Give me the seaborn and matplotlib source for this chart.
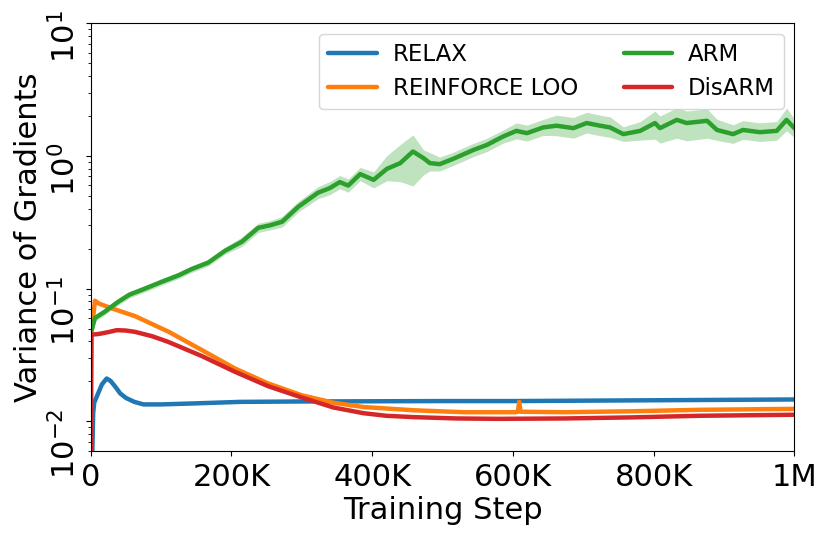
import matplotlib
matplotlib.use("Agg")
import matplotlib.pyplot as plt
import seaborn as sns
import numpy as np

# ---------------- data (training step in thousands) ----------------
relax_steps = [0, 2.3, 3.5, 5, 10, 16, 22.7, 28, 35, 42, 50, 62, 75, 100, 150, 212,
               300, 400, 500, 600, 700, 800, 900, 1000]
relax_vals = [0.004, 0.006, 0.0115, 0.0138, 0.0160, 0.0190, 0.0210, 0.0202, 0.0182,
              0.0162, 0.0150, 0.0140, 0.0134, 0.0134, 0.01365, 0.0140, 0.0141, 0.01415,
              0.0142, 0.0142, 0.0143, 0.0144, 0.0145, 0.0146]

loo_steps = [1, 6, 12, 29.8, 63, 111, 158, 205, 252, 300, 345, 388, 460, 531, 603,
             607, 609, 611, 674, 770, 865, 1000]
loo_vals = [0.046, 0.081, 0.077, 0.071, 0.062, 0.0472, 0.0344, 0.025, 0.0193, 0.0157,
            0.0138, 0.0128, 0.0121, 0.0117, 0.0117, 0.0118, 0.0140, 0.0118, 0.0117,
            0.0119, 0.0122, 0.0124]

arm_steps = [1.5, 6, 20, 39, 55, 72, 101, 125, 143, 167, 191, 215, 238, 255, 272, 295,
             323, 340, 354, 366, 383, 402, 421, 440, 458, 473, 482, 496, 515, 544, 563,
             586, 605, 620, 643, 662, 686, 705, 724, 738, 757, 781, 802, 809, 833, 847,
             876, 890, 913, 927, 951, 975, 989, 1000]
arm_vals = [0.049, 0.060, 0.067, 0.0795, 0.090, 0.0975, 0.1125, 0.126, 0.140, 0.157,
            0.193, 0.226, 0.287, 0.300, 0.319, 0.414, 0.528, 0.573, 0.635, 0.598, 0.730,
            0.660, 0.800, 0.883, 1.08, 0.962, 0.883, 0.867, 0.95, 1.11, 1.21, 1.40, 1.545,
            1.485, 1.64, 1.69, 1.62, 1.77, 1.69, 1.64, 1.46, 1.545, 1.77, 1.62, 1.87, 1.77,
            1.84, 1.57, 1.46, 1.57, 1.51, 1.545, 1.87, 1.62]
arm_hi = [0.0513, 0.0635, 0.071, 0.0842, 0.0953, 0.1032, 0.119, 0.1334, 0.148, 0.166,
          0.204, 0.245, 0.311, 0.325, 0.350, 0.454, 0.586, 0.643, 0.712, 0.671, 0.819,
          0.758, 1.007, 1.22, 1.44, 1.11, 1.06, 0.98, 1.066, 1.245, 1.358, 1.57, 1.774,
          1.705, 1.883, 2.03, 1.95, 2.13, 2.03, 1.97, 1.657, 1.815, 2.18, 2.0, 2.30, 2.18,
          2.26, 1.89, 1.715, 1.845, 1.774, 1.815, 2.30, 1.90]
arm_lo = [0.0468, 0.0567, 0.0633, 0.0751, 0.0850, 0.0921, 0.1062, 0.119, 0.132, 0.148,
          0.182, 0.208, 0.265, 0.277, 0.291, 0.378, 0.476, 0.511, 0.566, 0.533, 0.651,
          0.575, 0.650, 0.640, 0.594, 0.72, 0.77, 0.77, 0.847, 0.99, 1.078, 1.248, 1.346,
          1.293, 1.428, 1.42, 1.36, 1.49, 1.42, 1.38, 1.286, 1.315, 1.34, 1.25, 1.36, 1.30,
          1.36, 1.31, 1.243, 1.336, 1.285, 1.315, 1.55, 1.38]

disarm_steps = [0, 1.2, 10, 18, 25, 37, 50, 63, 87, 110, 158, 205, 252, 300, 345, 388,
                420, 460, 520, 579, 674, 770, 865, 1000]
disarm_vals = [0.004, 0.045, 0.0454, 0.0462, 0.047, 0.0486, 0.0483, 0.0472, 0.0438,
               0.0397, 0.031, 0.0236, 0.0184, 0.0151, 0.0127, 0.0115, 0.0110, 0.01074,
               0.0105, 0.01043, 0.0105, 0.0107, 0.0110, 0.0112]

x_ticks = [0, 200, 400, 600, 800, 1000]
x_tick_labels = ["0", "200K", "400K", "600K", "800K", "1M"]

# ---------------- style ----------------
sns.set_style("ticks", rc={
    "axes.edgecolor": "black",
    "xtick.color": "black",
    "ytick.color": "black",
    "text.color": "black",
    "axes.labelcolor": "black",
})
plt.rcParams["font.family"] = ["DejaVu Sans"]
plt.rcParams["mathtext.fontset"] = "dejavusans"

c_blue, c_orange, c_green, c_red = "#1f77b4", "#ff7f0e", "#2ca02c", "#d62728"

fig, ax = plt.subplots(figsize=(8.3, 5.41), dpi=100)
fig.subplots_adjust(left=0.1093, right=0.957, bottom=0.1669, top=0.957)

lw = 3.2
sns.lineplot(x=relax_steps, y=relax_vals, color=c_blue, lw=lw, label="RELAX", ax=ax)
sns.lineplot(x=loo_steps, y=loo_vals, color=c_orange, lw=lw, label="REINFORCE LOO", ax=ax)
ax.fill_between(arm_steps, arm_lo, arm_hi, color=c_green, alpha=0.3, lw=0)
sns.lineplot(x=arm_steps, y=arm_vals, color=c_green, lw=lw, label="ARM", ax=ax)
sns.lineplot(x=disarm_steps, y=disarm_vals, color=c_red, lw=lw, label="DisARM", ax=ax)

ax.set_yscale("log")
ax.set_ylim(0.006, 10)
ax.set_xlim(0, 1000)
ax.set_xticks(x_ticks)
ax.set_xticklabels(x_tick_labels)
ax.tick_params(axis="both", labelsize=22)
ax.tick_params(axis="x", pad=5.5)
ax.tick_params(axis="y", labelrotation=90)
ax.set_xlabel("Training Step", fontsize=22, labelpad=3)
ax.set_ylabel("Variance of Gradients", fontsize=22)
for s in ax.spines.values():
    s.set_visible(True)
    s.set_color("black")

ax.legend(ncol=2, loc="upper right", fontsize=16.5, handlelength=2.1,
          handletextpad=0.7, borderaxespad=0.45)

fig.savefig("out.png", dpi=100)
